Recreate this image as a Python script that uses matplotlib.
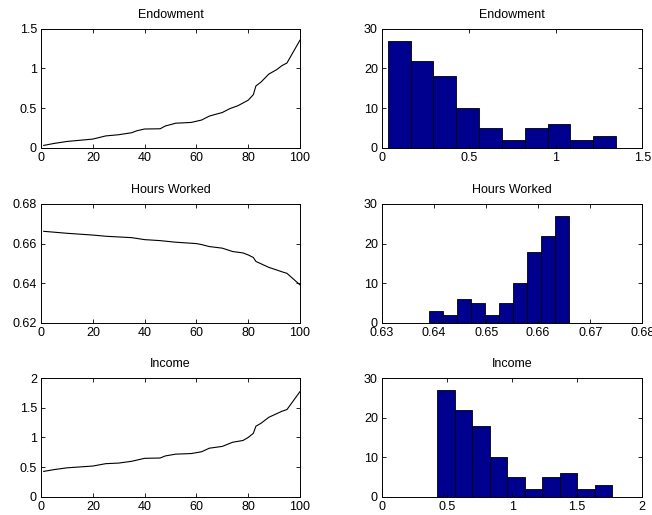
import numpy as np
import matplotlib.pyplot as plt
from matplotlib.ticker import FormatStrFormatter, FuncFormatter

# --- values ---
# sorted series (index 1..100), sampled at the visible kinks
idx = [1, 5, 10, 20, 25, 30, 35, 37, 40, 46, 48, 52, 58, 62, 65, 70, 73, 76,
       80, 82, 83, 85, 88, 91, 93, 95, 100]
endowment = [0.03, 0.055, 0.08, 0.11, 0.15, 0.165, 0.19, 0.215, 0.237, 0.24,
             0.275, 0.31, 0.32, 0.35, 0.40, 0.445, 0.495, 0.53, 0.60, 0.67,
             0.78, 0.83, 0.93, 0.985, 1.035, 1.07, 1.356]

idx_h = [1, 10, 20, 25, 35, 40, 46, 52, 60, 62, 65, 70, 74, 78, 80, 82, 83,
         85, 88, 91, 93, 95, 100]
hours = [0.6662, 0.6652, 0.6643, 0.6637, 0.6630, 0.6620, 0.6615, 0.6607,
         0.6600, 0.6595, 0.6585, 0.6577, 0.6560, 0.6553, 0.6543, 0.6530,
         0.6510, 0.6498, 0.6480, 0.6467, 0.6458, 0.6450, 0.6392]

idx_i = [1, 5, 10, 20, 25, 30, 35, 40, 46, 48, 52, 58, 62, 65, 70, 74, 78,
         80, 82, 83, 85, 88, 91, 93, 95, 100]
income = [0.43, 0.46, 0.49, 0.52, 0.56, 0.57, 0.60, 0.65, 0.655, 0.69, 0.72,
          0.73, 0.76, 0.82, 0.85, 0.92, 0.95, 1.0, 1.07, 1.19, 1.24, 1.34,
          1.40, 1.44, 1.47, 1.77]

# histograms: 10 bins between min and max
endow_counts = [27, 22, 18, 10, 5, 2, 5, 6, 2, 3]
endow_range = (0.033, 1.349)
hours_counts = [3, 2, 6, 5, 2, 5, 10, 18, 22, 27]
hours_range = (0.639, 0.666)
income_counts = [27, 22, 18, 10, 5, 2, 5, 6, 2, 3]
income_range = (0.425, 1.771)

titles = ['Endowment', 'Hours Worked', 'Income']

plt.rcParams['font.family'] = ['Liberation Sans', 'DejaVu Sans']

fig = plt.figure(figsize=(6.52, 5.15), dpi=100)

lefts = [0.063, 0.586]
widths = [0.397, 0.399]
bottoms = [0.713, 0.373, 0.035]
h = 0.231

gfmt = FuncFormatter(lambda v, p: ('%g' % round(v, 6)))


def style(ax):
    ax.tick_params(direction='in', top=True, right=True, length=3,
                   width=0.6, labelsize=9, pad=3)
    for s in ax.spines.values():
        s.set_linewidth(0.7)
    ax.xaxis.set_major_formatter(gfmt)
    ax.yaxis.set_major_formatter(gfmt)


line_data = [(idx, endowment, (0, 1.5), [0, 0.5, 1, 1.5]),
             (idx_h, hours, (0.62, 0.68), [0.62, 0.64, 0.66, 0.68]),
             (idx_i, income, (0, 2), [0, 0.5, 1, 1.5, 2])]
hist_data = [(endow_counts, endow_range, (0, 1.5), [0, 0.5, 1, 1.5]),
             (hours_counts, hours_range, (0.63, 0.68),
              [0.63, 0.64, 0.65, 0.66, 0.67, 0.68]),
             (income_counts, income_range, (0, 2), [0, 0.5, 1, 1.5, 2])]

for r in range(3):
    # left: sorted series
    ax = fig.add_axes([lefts[0], bottoms[r], widths[0], h])
    xs, ys, ylim, yt = line_data[r]
    ax.plot(xs, ys, color='black', linewidth=0.8)
    ax.set_xlim(0, 100)
    ax.set_xticks([0, 20, 40, 60, 80, 100])
    ax.set_ylim(*ylim)
    ax.set_yticks(yt)
    ax.set_title(titles[r], fontsize=9, pad=8)
    style(ax)
    if r == 1:
        ax.yaxis.set_major_formatter(FormatStrFormatter('%.2f'))

    # right: histogram
    ax = fig.add_axes([lefts[1], bottoms[r], widths[1], h])
    counts, (lo, hi), xlim, xt = hist_data[r]
    edges = np.linspace(lo, hi, len(counts) + 1)
    ax.bar(edges[:-1], counts, width=np.diff(edges), align='edge',
           color='#00008F', edgecolor='black', linewidth=0.6)
    ax.set_xlim(*xlim)
    ax.set_xticks(xt)
    ax.set_ylim(0, 30)
    ax.set_yticks([0, 10, 20, 30])
    ax.set_title(titles[r], fontsize=9, pad=8)
    style(ax)
    if r == 1:
        ax.xaxis.set_major_formatter(FormatStrFormatter('%.2f'))

fig.savefig('out.png', dpi=100)
